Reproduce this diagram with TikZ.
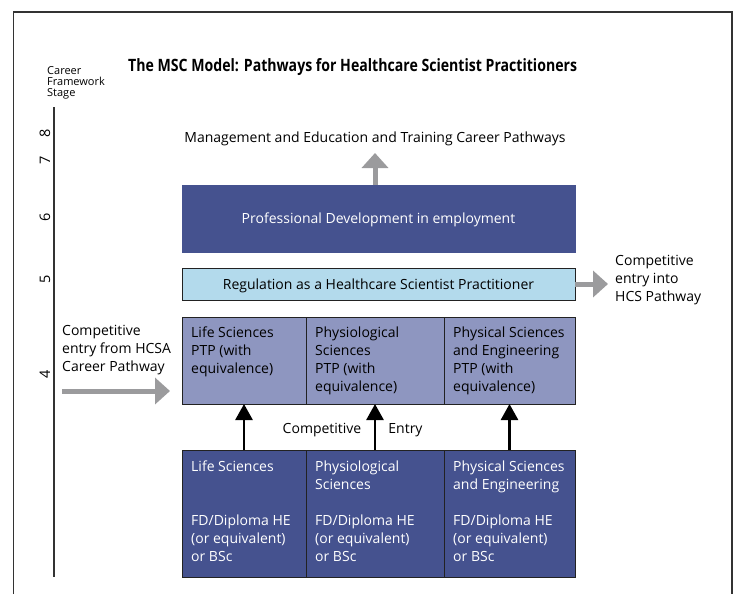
\documentclass[tikz,border=0pt]{standalone}
\usepackage{fontspec}
\setmainfont{Open Sans}
\newfontfamily\titlefont{Open Sans}[FakeStretch=0.83]
\usetikzlibrary{arrows.meta}
\definecolor{dblue}{HTML}{45528F}
\definecolor{lav}{HTML}{8E96C0}
\definecolor{lblue}{HTML}{B3DAEC}
\definecolor{agray}{HTML}{9B9B9D}
\definecolor{bord}{HTML}{222222}
\definecolor{framec}{HTML}{333333}
\newcommand{\bodyfont}{\fontsize{14}{18}\selectfont}
\begin{document}
\begin{tikzpicture}[x=1pt,y=-1pt,
  box/.style={draw=bord, line width=0.8pt, anchor=north west, inner sep=0pt, outer sep=0pt, font=\bodyfont, text depth=0pt},
  txt/.style={anchor=north west, inner sep=0pt, align=left, font=\bodyfont},
  wtxt/.style={txt, text=white},
  plain/.style={inner sep=0pt, font=\bodyfont},
  garrow/.style={draw=agray, line width=5pt, -{Triangle[length=15pt,width=26pt]}},
  karrow/.style={draw=black, line width=2.7pt, -{Triangle[length=16pt,width=17pt]}},
  tick/.style={rotate=90, inner sep=0pt, font=\fontsize{14.5}{16}\selectfont}
]
\useasboundingbox (0,0) rectangle (738,594);
% frame
\draw[line width=1.5pt, framec] (13.5,594) -- (13.5,12) -- (732,12) -- (732,594);
% axis
\draw[line width=1.3pt, framec] (54,107) -- (54,577);
\node[txt, font=\fontsize{11}{11.3}\selectfont] (cfs) at (47,66) {Career\\Framework\\Stage};
\node[tick] (t8) at (45,133) {8};
\node[tick] (t7) at (45,160) {7};
\node[tick] (t6) at (45,217) {6};
\node[tick] (t5) at (45,279) {5};
\node[tick] (t4) at (45,374) {4};
% title
\node[anchor=west, inner sep=0pt, font=\titlefont\bfseries\fontsize{17}{20}\selectfont] (title) at (128,67.5) {The MSC Model: Pathways for Healthcare Scientist Practitioners};
% top text
\node[plain] (mg) at (375,138.5) {Management and Education and Training Career Pathways};
% boxes
\node[box, draw=dblue, fill=dblue, text=white, minimum width=393, minimum height=67] (pd) at (182,185) {Professional Development in employment};
\node[box, fill=lblue, minimum width=393, minimum height=32] (reg) at (182,268) {Regulation as a Healthcare Scientist Practitioner};
\node[box, fill=lav, minimum width=124, minimum height=87] (p1) at (182,317) {};
\node[box, fill=lav, minimum width=138, minimum height=87] (p2) at (306,317) {};
\node[box, fill=lav, minimum width=131, minimum height=87] (p3) at (444,317) {};
\node[txt] (p1t) at (191,327) {Life Sciences\\PTP (with\\equivalence)};
\node[txt] (p2t) at (315,327) {Physiological\\Sciences\\PTP (with\\equivalence)};
\node[txt] (p3t) at (453,327) {Physical Sciences\\and Engineering\\PTP (with\\equivalence)};
\node[box, fill=dblue, minimum width=124, minimum height=127] (b1) at (182,450) {};
\node[box, fill=dblue, minimum width=138, minimum height=127] (b2) at (306,450) {};
\node[box, fill=dblue, minimum width=131, minimum height=127] (b3) at (444,450) {};
\node[wtxt] (b1t) at (191,460.5) {Life Sciences};
\node[wtxt] (b2t) at (315,460.5) {Physiological\\Sciences};
\node[wtxt] (b3t) at (453,460.5) {Physical Sciences\\and Engineering};
\node[wtxt] (b1d) at (191,514.5) {FD/Diploma HE\\(or equivalent)\\or BSc};
\node[wtxt] (b2d) at (315,514.5) {FD/Diploma HE\\(or equivalent)\\or BSc};
\node[wtxt] (b3d) at (453,514.5) {FD/Diploma HE\\(or equivalent)\\or BSc};
% competitive entry label
\node[plain] (ce1) at (322,430.5) {Competitive};
\node[plain] (ce2) at (405.5,430.5) {Entry};
% side texts
\node[txt] (hcs) at (615,255) {Competitive\\entry into\\HCS Pathway};
\node[txt] (hcsa) at (62,325.5) {Competitive\\entry from HCSA\\Career Pathway};
% arrows
\coordinate (mgtip) at (375,153);
\draw[garrow] (pd.north -| mgtip) -- (mgtip);
\coordinate (hcstip) at (608,284);
\draw[garrow] (reg.east) -- (hcstip);
\coordinate (hcsastart) at (62,391);
\coordinate (hcsatip) at (170,391);
\draw[garrow] (hcsastart) -- (hcsatip);
\draw[karrow] (b1.north) -- (p1.south);
\draw[karrow] (b2.north) -- (p2.south);
\draw[karrow] (b3.north) -- (p3.south);
\end{tikzpicture}
\end{document}
